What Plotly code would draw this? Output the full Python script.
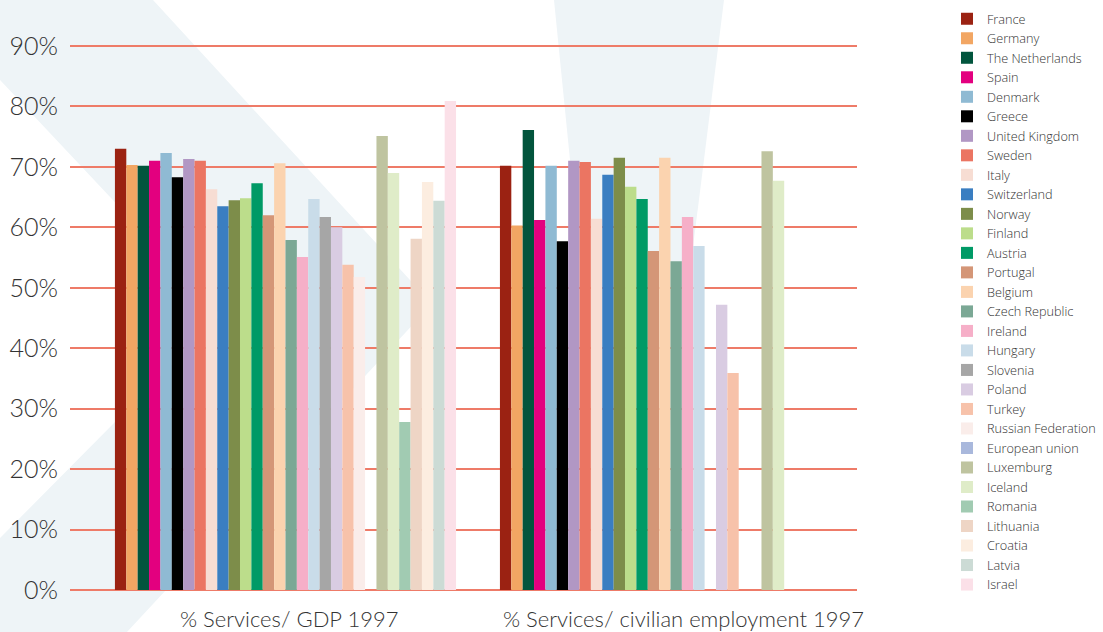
import plotly.graph_objects as go

categories = ["% Services/ GDP 1997", "% Services/ civilian employment 1997"]

countries = [
    "France", "Germany", "The Netherlands", "Spain", "Denmark", "Greece",
    "United Kingdom", "Sweden", "Italy", "Switzerland", "Norway", "Finland",
    "Austria", "Portugal", "Belgium", "Czech Republic", "Ireland", "Hungary",
    "Slovenia", "Poland", "Turkey", "Russian Federation", "European union",
    "Luxemburg", "Iceland", "Romania", "Lithuania", "Croatia", "Latvia", "Israel",
]

services_gdp = [
    73.0, 70.3, 70.2, 71.0, 72.3, 68.3,
    71.3, 71.0, 66.3, 63.5, 64.5, 64.8,
    67.3, 62.0, 70.6, 57.9, 55.1, 64.7,
    61.7, 60.0, 53.8, 51.8, None,
    75.1, 69.0, 27.8, 58.1, 67.5, 64.4, 80.9,
]

services_employment = [
    70.2, 60.3, 76.1, 61.2, 70.2, 57.7,
    71.0, 70.8, 61.4, 68.7, 71.5, 66.7,
    64.7, 56.1, 71.5, 54.4, 61.7, 56.9,
    None, 47.2, 35.9, None, None,
    72.6, 67.7, None, None, None, None, None,
]

colors = [
    "#9B2212", "#F2A663", "#02553D", "#E3007F", "#8FBAD3", "#000000",
    "#B197C4", "#EB7562", "#F7DDD3", "#3A7EC1", "#7D8D4A", "#BCDD8B",
    "#009A66", "#D49677", "#FBD3AF", "#7BA895", "#F6AFC8", "#C9DCE9",
    "#A6A6A6", "#D9CCE2", "#F7C2AA", "#FAEDEA", "#A9B8DC",
    "#BFC4A0", "#DFECC8", "#A1CBB2", "#EED5C5", "#FCEDE0", "#CCDBD5", "#FBE0E8",
]

y_ticks = [0, 10, 20, 30, 40, 50, 60, 70, 80, 90]

FONT = "Lato"
LEGEND_FONT = "Open Sans"
TEXT = "#333333"
GRID = "#EE7B68"
PALE = "#EEF4F7"

fig = go.Figure()
for name, g, e, c in zip(countries, services_gdp, services_employment, colors):
    fig.add_trace(go.Bar(
        name=name, x=[0, 1], y=[g, e],
        marker=dict(color=c, line=dict(width=0)),
    ))

# pixel -> paper helpers for the decorative background (plot area 70..857 x 20..590)
L, R, T, B = 70, 857, 20, 590
def px(x):
    return (x - L) / (R - L)
def py(y):
    return (B - y) / (B - T)

def path(points):
    return "M" + " L".join(f"{px(a):.4f},{py(b):.4f}" for a, b in points) + " Z"

chevron = [(0, 0), (153, 0), (432, 304), (127, 632), (0, 632), (0, 538), (221, 315), (0, 80)]
funnel = [(554, 0), (724, 0), (650, 590), (613, 590)]

shapes = [
    dict(type="path", xref="paper", yref="paper", path=path(chevron),
         fillcolor=PALE, line=dict(width=0), layer="below"),
    dict(type="path", xref="paper", yref="paper", path=path(funnel),
         fillcolor=PALE, line=dict(width=0), layer="below"),
]

annotations = [
    dict(x=0, y=py(603), xref="x", yref="paper", text=categories[0], showarrow=False,
         xshift=4, yanchor="top", font=dict(family=FONT, size=22, color=TEXT, weight=300)),
    dict(x=1, y=py(603), xref="x", yref="paper", text=categories[1], showarrow=False,
         xshift=13, yanchor="top", font=dict(family=FONT, size=22, color=TEXT, weight=300)),
]

fig.update_layout(
    width=1103, height=632,
    margin=dict(l=L, r=1103 - R, t=T, b=632 - B, pad=0, autoexpand=False),
    paper_bgcolor="white", plot_bgcolor="rgba(0,0,0,0)",
    barmode="group", bargap=0.114, bargroupgap=0,
    showlegend=True,
    legend=dict(
        x=px(947), xanchor="left", y=py(4), yanchor="top",
        font=dict(family=LEGEND_FONT, size=12.7, color=TEXT, weight=300),
        itemwidth=30, tracegroupgap=0, bgcolor="rgba(0,0,0,0)",
        maxheight=700,
    ),
    shapes=shapes,
    annotations=annotations,
    xaxis=dict(
        range=[-0.5597, 1.4844], showticklabels=False, showgrid=False,
        zeroline=False, showline=False, ticks="",
        tickvals=[0, 1],
    ),
    yaxis=dict(
        range=[0, (B - T) / ((B - 46) / 90)],
        tickvals=y_ticks, ticktext=[f"{v}%" for v in y_ticks],
        showgrid=True, gridcolor=GRID, gridwidth=1.5,
        zeroline=True, zerolinecolor=GRID, zerolinewidth=1.5,
        showline=False, ticks="outside", ticklen=6, tickcolor="rgba(0,0,0,0)",
        tickfont=dict(family=FONT, size=25, color=TEXT, weight=300),
        automargin=False,
    ),
)

fig.write_html(
    "out.html",
    config={"displayModeBar": False},
    post_script="document.body.style.margin='0';",
)
